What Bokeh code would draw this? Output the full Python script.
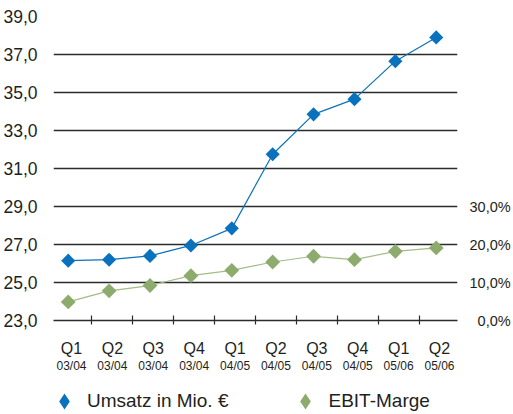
import math
from bokeh.plotting import figure
from bokeh.layouts import column
from bokeh.models import Range1d, LinearAxis, FixedTicker, Legend, LegendItem
from bokeh.embed import file_html
from bokeh.resources import INLINE

quarters = ["Q1", "Q2", "Q3", "Q4", "Q1", "Q2", "Q3", "Q4", "Q1", "Q2"]
years = ["03/04", "03/04", "03/04", "03/04", "04/05", "04/05", "04/05", "04/05", "05/06", "05/06"]
umsatz = [26.15, 26.2, 26.4, 26.95, 27.85, 31.75, 33.85, 34.65, 36.65, 37.9]
ebit_pct = [4.9, 7.8, 9.2, 11.8, 13.2, 15.4, 16.9, 16.0, 18.2, 19.1]
left_ticks = [23, 25, 27, 29, 31, 33, 35, 37, 39]
right_ticks = [0, 10, 20, 30]
series_names = ["Umsatz in Mio. €", "EBIT-Marge"]

FONT = "Liberation Sans"
TXT = "#231f20"
GRID = "#2b2b2b"
BLUE = "#0a72bd"
GREEN = "#8dab6c"
GREEN_LINE = "#a3bd88"

idx = list(range(len(quarters)))
label_pos = [round(i + 0.08, 2) for i in idx]
bounds = [round(i + 0.58, 2) for i in idx[:-1]]

p = figure(width=513, height=375, x_range=Range1d(-0.36, 9.52), y_range=Range1d(23, 39),
           output_backend="svg", toolbar_location=None,
           min_border_left=53, min_border_right=50, min_border_top=16, min_border_bottom=53)
p.outline_line_color = None
p.background_fill_color = "white"
p.border_fill_color = "white"
p.xgrid.visible = False
p.ygrid.ticker = FixedTicker(ticks=left_ticks)
p.ygrid.grid_line_color = GRID
p.ygrid.grid_line_width = 1.3

# left axis
ya = p.yaxis[0]
ya.ticker = FixedTicker(ticks=left_ticks)
ya.major_label_overrides = {t: f"{t},0" for t in left_ticks}
ya.axis_line_color = None
ya.major_tick_line_color = None
ya.minor_tick_line_color = None
ya.major_label_standoff = 10
ya.major_label_text_font = FONT
ya.major_label_text_font_size = "17.5px"
ya.major_label_text_color = TXT

# right axis (percent)
p.extra_y_ranges = {"pct": Range1d(0, 80)}
ra = LinearAxis(y_range_name="pct", ticker=FixedTicker(ticks=right_ticks))
ra.major_label_overrides = {t: (f"{t},0%" if t >= 10 else f"\u2007{t},0%") for t in right_ticks}
ra.axis_line_color = None
ra.major_tick_line_color = None
ra.minor_tick_line_color = None
ra.major_label_standoff = 6
ra.major_label_text_font = FONT
ra.major_label_text_font_size = "14.5px"
ra.major_label_text_color = TXT
p.add_layout(ra, "right")

# bottom axis: quarters
xa = p.xaxis[0]
xa.ticker = FixedTicker(ticks=label_pos, minor_ticks=bounds)
xa.major_label_overrides = {pos: q for pos, q in zip(label_pos, quarters)}
xa.major_tick_in = 0
xa.major_tick_out = 0
xa.major_tick_line_color = None
xa.minor_tick_in = 5
xa.minor_tick_out = 4
xa.minor_tick_line_color = GRID
xa.minor_tick_line_width = 1.2
xa.axis_line_color = GRID
xa.axis_line_width = 1.3
xa.major_label_standoff = 15
xa.major_label_text_font = FONT
xa.major_label_text_font_size = "16px"
xa.major_label_text_color = TXT

# second bottom axis: fiscal years
xa2 = LinearAxis(ticker=FixedTicker(ticks=label_pos))
xa2.major_label_overrides = {pos: y for pos, y in zip(label_pos, years)}
xa2.axis_line_color = None
xa2.major_tick_line_color = None
xa2.minor_tick_line_color = None
xa2.major_tick_in = 0
xa2.major_tick_out = 0
xa2.major_label_standoff = -1
xa2.major_label_text_font = FONT
xa2.major_label_text_font_size = "12px"
xa2.major_label_text_color = TXT
p.add_layout(xa2, "below")

# series
p.line(idx, ebit_pct, y_range_name="pct", line_color=GREEN_LINE, line_width=1.2)
p.scatter(idx, ebit_pct, y_range_name="pct", marker="square", angle=math.pi / 4,
          size=10.5, fill_color=GREEN, line_color=None)
p.line(idx, umsatz, line_color=BLUE, line_width=1.2)
p.scatter(idx, umsatz, marker="square", angle=math.pi / 4,
          size=10, fill_color=BLUE, line_color=None)

# legend strip below the chart (its frame is aligned with the chart's frame)
p2 = figure(width=513, height=39, x_range=Range1d(0, 1), y_range=Range1d(0, 1),
            output_backend="svg", toolbar_location=None,
            x_axis_type=None, y_axis_type=None, min_border=0)
p2.outline_line_color = None
p2.grid.visible = False
lg1 = p2.scatter(x=[-10], y=[-10], marker="diamond", fill_color=BLUE, line_color=None)
lg2 = p2.scatter(x=[-10], y=[-10], marker="diamond", fill_color=GREEN, line_color=None)
legend = Legend(items=[LegendItem(label=series_names[0], renderers=[lg1]),
                       LegendItem(label=series_names[1], renderers=[lg2])],
                orientation="horizontal", location=(-9, -7),
                border_line_color=None, background_fill_alpha=0,
                label_text_font=FONT, label_text_font_size="19px", label_text_color=TXT,
                glyph_width=40, glyph_height=40, label_standoff=3, spacing=57,
                padding=0, margin=0)
p2.add_layout(legend, "center")

open("out.html", "w").write(file_html(column(p, p2, spacing=0), INLINE))
